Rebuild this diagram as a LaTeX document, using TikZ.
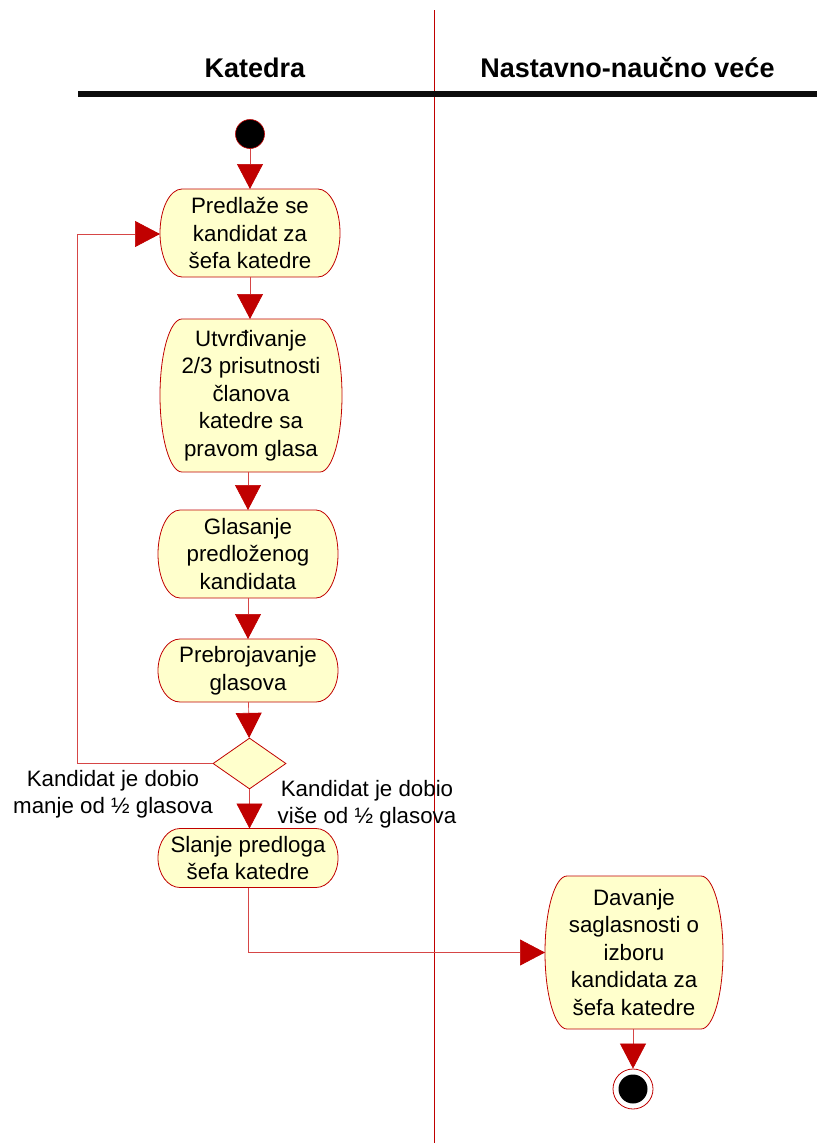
\documentclass[tikz,border=0pt]{standalone}
\usepackage{fontspec}
\setmainfont{Liberation Sans}
\usetikzlibrary{arrows.meta,shapes.geometric}
\definecolor{actfill}{RGB}{255,255,204}
\definecolor{actline}{RGB}{192,0,0}
\definecolor{flowline}{RGB}{214,70,70}
% activity: straight top and bottom, half-elliptical sides
% #1 name, #2 centre x, #3 centre y, #4 width, #5 height, #6 text
\newcommand\activitynode[6]{%
  \pgfmathsetmacro\actry{#5/2}%
  \filldraw[actshape] ({#2-#4/2+22},{#3-#5/2}) -- ({#2+#4/2-22},{#3-#5/2})
    arc[start angle=90, end angle=-90, x radius=22pt, y radius=\actry pt]
    -- ({#2-#4/2+22},{#3+#5/2})
    arc[start angle=270, end angle=90, x radius=22pt, y radius=\actry pt] -- cycle;
  \node[acttext, minimum width=#4 pt, minimum height=#5 pt] (#1) at (#2,#3) {#6};}
\begin{document}
\begin{tikzpicture}[x=1pt,y=-1pt,
  actshape/.style={draw=actline, line width=0.8pt, fill=actfill},
  acttext/.style={align=center, inner sep=0pt, outer sep=0pt, text=black,
    font=\fontsize{22.3}{27.5}\selectfont},
  decision/.style={diamond, draw=actline, line width=0.8pt, fill=actfill,
    minimum width=73pt, minimum height=51pt, inner sep=0pt, aspect=1.43},
  flow/.style={draw=flowline, line width=0.7pt,
    -{Triangle[width=26pt,length=25pt,color=actline]}},
  guard/.style={align=center, inner sep=0pt, font=\fontsize{22.3}{26.5}\selectfont},
  lanetitle/.style={font=\fontsize{27}{30}\selectfont\bfseries, anchor=base}]
  \useasboundingbox (0,0) rectangle (817,1143);

  % swimlanes
  \draw[actline, line width=0.8pt] (434,10) -- (434,1143);
  \draw[black!95, line width=5.5pt] (78,94) -- (817,94);
  \node[lanetitle] (lane1) at (255,77) {Katedra};
  \node[lanetitle] (lane2) at (627.5,77) {Nastavno-naučno veće};

  % initial node
  \node[circle, fill=black, draw=actline, line width=0.6pt, minimum size=29pt, inner sep=0pt] (start) at (250,134) {};

  % activities in the Katedra lane
  \activitynode{a1}{250}{233}{180}{88}{Predlaže se\\kandidat za\\šefa katedre}
  \activitynode{a2}{251}{395.5}{182}{153}{Utvrđivanje\\2/3 prisutnosti\\članova\\katedre sa\\pravom glasa}
  \activitynode{a3}{248}{554}{180}{88}{Glasanje\\predloženog\\kandidata}
  \activitynode{a4}{248}{670.5}{180}{63}{Prebrojavanje\\glasova}
  \node[decision] (d) at (249.5,763.5) {};
  \activitynode{a5}{248}{858}{180}{59}{Slanje predloga\\šefa katedre}

  % activity in the Nastavno-naucno vece lane
  \activitynode{a6}{634}{952.5}{178}{153}{Davanje\\saglasnosti o\\izboru\\kandidata za\\šefa katedre}

  % final node
  \node[circle, draw=actline, fill=white, line width=0.8pt, minimum size=40pt, inner sep=0pt] (end) at (633,1089) {};
  \node[circle, fill=black, minimum size=29pt, inner sep=0pt] (endin) at (end.center) {};

  % control flows
  \draw[flow] (start) -- (a1);
  \draw[flow] (a1) -- (a1 |- a2.north);
  \draw[flow] (a2.south -| a3) -- (a3);
  \draw[flow] (a3) -- (a4);
  \draw[flow] (a4) -- (d);
  \draw[flow] (d) -- (d |- a5.north);
  \draw[flow] (d.west) -- (77,763.5) -- (77,234) -- (a1.west |- 0,234);
  \draw[flow] (a5) -- (248,952.5) -- (a6.west);
  \draw[flow] (a6.south -| end) -- (end);

  % guards
  \node[guard] (g1) at (113,794) {Kandidat je dobio\\manje od ½ glasova};
  \node[guard] (g2) at (367,804) {Kandidat je dobio\\više od ½ glasova};
\end{tikzpicture}
\end{document}
